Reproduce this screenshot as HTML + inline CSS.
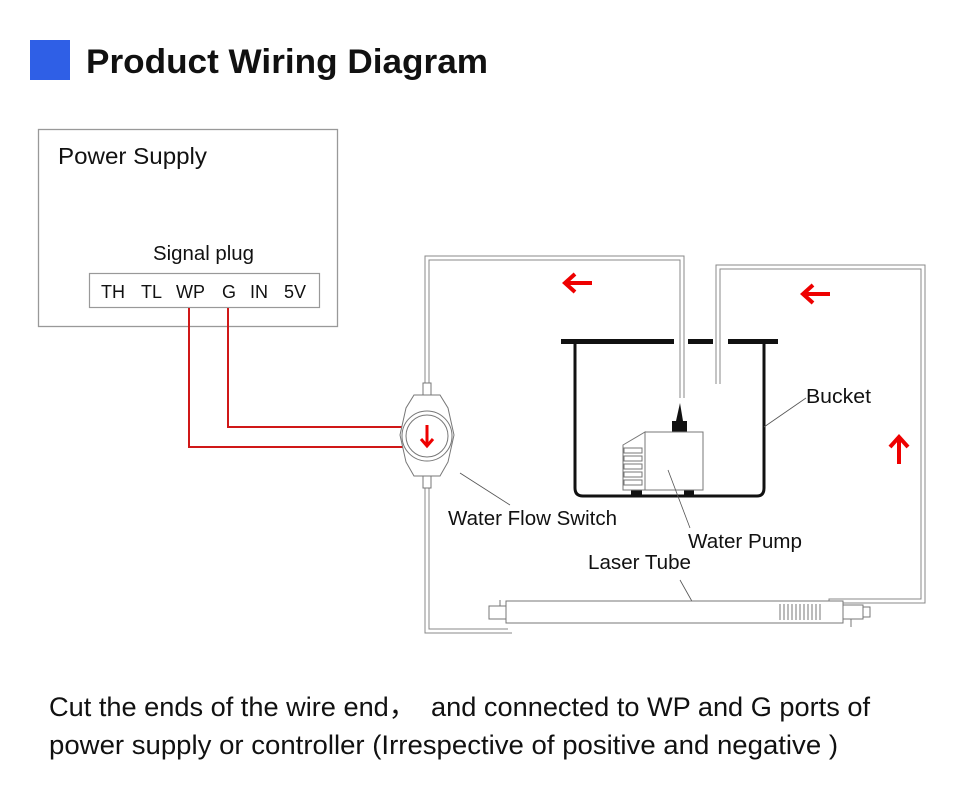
<!DOCTYPE html>
<html><head><meta charset="utf-8"><style>
body{margin:0;background:#fff;}
svg text{font-family:"Liberation Sans","Noto Sans CJK SC",sans-serif;}
</style></head><body>
<svg width="960" height="796" viewBox="0 0 960 796" xmlns="http://www.w3.org/2000/svg">
<rect x="30" y="40" width="40" height="40" fill="#2f5fe6"/>
<text x="86" y="73" font-size="34" font-weight="bold" fill="#111" textLength="402" lengthAdjust="spacingAndGlyphs">Product Wiring Diagram</text>

<rect x="38.5" y="129.5" width="299" height="197" fill="none" stroke="#999" stroke-width="1.3"/>
<text x="58" y="164" font-size="23" fill="#111" textLength="149" lengthAdjust="spacingAndGlyphs">Power Supply</text>
<text x="153" y="260" font-size="20" fill="#111" textLength="101" lengthAdjust="spacingAndGlyphs">Signal plug</text>
<rect x="89.5" y="273.5" width="230" height="34" fill="none" stroke="#999" stroke-width="1.2"/>
<text x="101" y="298" font-size="18" fill="#111">TH</text>
<text x="141" y="298" font-size="18" fill="#111">TL</text>
<text x="176" y="298" font-size="18" fill="#111">WP</text>
<text x="222" y="298" font-size="18" fill="#111">G</text>
<text x="250" y="298" font-size="18" fill="#111">IN</text>
<text x="284" y="298" font-size="18" fill="#111">5V</text>

<polyline points="189,308 189,447 403,447" fill="none" stroke="#d01818" stroke-width="2"/>
<polyline points="228,308 228,427 403,427" fill="none" stroke="#d01818" stroke-width="2"/>

<g fill="none" stroke="#888" stroke-width="1">
<polyline points="425,392 425,256 684,256 684,398"/>
<polyline points="429,392 429,260 680,260 680,398"/>
<polyline points="425,478 425,633 512,633"/>
<polyline points="429,478 429,629 508,629"/>
<polyline points="716,384 716,265 925,265 925,603 832,603 832,607"/>
<polyline points="720,384 720,269 921,269 921,599 829,599 829,607"/>
</g>
<g fill="#fff" stroke="#777" stroke-width="1">
<rect x="423" y="383" width="8" height="12"/>
<rect x="423" y="476" width="8" height="12"/>
<path d="M414,395 L440,395 L448,408 L454,435 L448,462 L440,476 L414,476 L406,462 L400,435 L406,408 Z"/>
<circle cx="427" cy="436" r="25"/>
<circle cx="427" cy="436" r="21"/>
</g>
<path d="M427,425 L427,445 M421,439 L427,446 L433,439" stroke="#e00" stroke-width="3" fill="none"/>
<line x1="460" y1="473" x2="510" y2="505" stroke="#555" stroke-width="0.8"/>
<text x="448" y="525" font-size="20" fill="#111" textLength="169" lengthAdjust="spacingAndGlyphs">Water Flow Switch</text>

<g stroke="#e00" stroke-width="4" fill="none">
<path d="M592,283 L565,283 M575,274 L565,283 L575,292"/>
<path d="M830,294 L803,294 M813,285 L803,294 L813,303"/>
<path d="M899,464 L899,437 M890,447 L899,437 L908,447"/>
</g>

<g fill="#111">
<rect x="561" y="339" width="113" height="5"/>
<rect x="688" y="339" width="25" height="5"/>
<rect x="728" y="339" width="50" height="5"/>
</g>
<path d="M575,342 L575,488 Q575,496 583,496 L757,496 Q764,496 764,488 L764,342" fill="none" stroke="#111" stroke-width="3"/>
<line x1="764" y1="427" x2="806" y2="398" stroke="#555" stroke-width="0.8"/>
<text x="806" y="403" font-size="20" fill="#111" textLength="65" lengthAdjust="spacingAndGlyphs">Bucket</text>

<rect x="631" y="488" width="11" height="9" fill="#111"/>
<rect x="684" y="488" width="10" height="9" fill="#111"/>
<rect x="672" y="421" width="15" height="11" fill="#111"/>
<path d="M676,421 L680,403 L683,421 Z" fill="#111"/>
<path d="M623,445 L645,432 L645,490 L623,490 Z" fill="#fff" stroke="#777"/>
<g stroke="#777" fill="none">
<rect x="624" y="448" width="18" height="5"/><rect x="624" y="456" width="18" height="5"/><rect x="624" y="464" width="18" height="5"/><rect x="624" y="472" width="18" height="5"/><rect x="624" y="480" width="18" height="5"/>
</g>
<rect x="645" y="432" width="58" height="58" fill="#fff" stroke="#777"/>
<line x1="668" y1="470" x2="690" y2="528" stroke="#555" stroke-width="0.8"/>
<text x="688" y="548" font-size="20" fill="#111" textLength="114" lengthAdjust="spacingAndGlyphs">Water Pump</text>
<text x="588" y="569" font-size="20" fill="#111" textLength="103" lengthAdjust="spacingAndGlyphs">Laser Tube</text>
<line x1="680" y1="580" x2="698" y2="612" stroke="#555" stroke-width="0.8"/>

<g fill="#fff" stroke="#777" stroke-width="1">
<rect x="506" y="601" width="337" height="22"/>
<rect x="489" y="606" width="17" height="13"/>
<rect x="843" y="605" width="20" height="14"/>
<rect x="863" y="607" width="7" height="10"/>
</g>
<g stroke="#777" stroke-width="1">
<line x1="780" y1="604" x2="780" y2="620"/><line x1="784" y1="604" x2="784" y2="620"/><line x1="788" y1="604" x2="788" y2="620"/><line x1="792" y1="604" x2="792" y2="620"/><line x1="796" y1="604" x2="796" y2="620"/><line x1="800" y1="604" x2="800" y2="620"/><line x1="804" y1="604" x2="804" y2="620"/><line x1="808" y1="604" x2="808" y2="620"/><line x1="812" y1="604" x2="812" y2="620"/><line x1="816" y1="604" x2="816" y2="620"/><line x1="820" y1="604" x2="820" y2="620"/>
<line x1="500" y1="600" x2="500" y2="606"/><line x1="851" y1="619" x2="851" y2="627"/>
</g>

<text x="49" y="716" font-size="27" fill="#111" textLength="821" lengthAdjust="spacingAndGlyphs" xml:space="preserve">Cut the ends of the wire end，  and connected to WP and G ports of</text>
<text x="49" y="754" font-size="27" fill="#111" textLength="789" lengthAdjust="spacingAndGlyphs">power supply or controller (Irrespective of positive and negative )</text>
</svg>
</body></html>
